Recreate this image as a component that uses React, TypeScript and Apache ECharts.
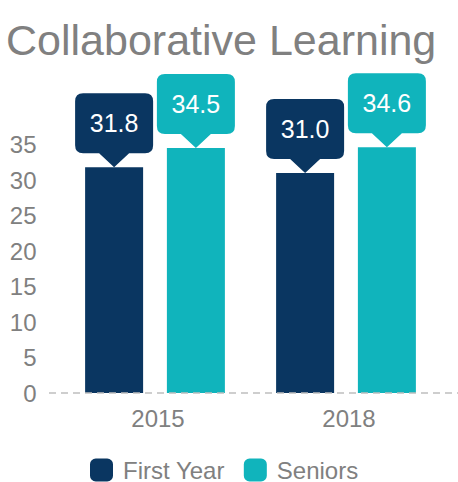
import React, { useEffect, useRef } from "react";
import * as echarts from "echarts";

const categories = ["2015", "2018"];
const seriesNames = ["First Year", "Seniors"];
const firstYear = [31.8, 31.0];
const seniors = [34.5, 34.6];
const yTicks = { min: 0, max: 35, interval: 5 };

const NAVY = "#0a3661";
const TEAL = "#10b4bc";
const GRAY = "#808080";
const FONT = "'Liberation Sans', Arial, sans-serif";

const BUBBLE =
  "path://M8 0 L70 0 Q78 0 78 8 L78 52 Q78 60 70 60 L54 60 L39 74 L24 60 L8 60 Q0 60 0 52 L0 8 Q0 0 8 0 Z";

function makeSeries(name: string, values: number[], color: string) {
  return {
    name,
    type: "bar",
    data: values,
    barWidth: 58,
    barGap: "41%",
    itemStyle: { color },
    markPoint: {
      symbol: BUBBLE,
      symbolSize: [78, 74],
      symbolOffset: [0, "-50%"],
      itemStyle: { color },
      label: {
        show: true,
        position: "inside",
        offset: [0, -7],
        color: "#ffffff",
        fontSize: 25,
        fontFamily: FONT,
        formatter: (p: any) => Number(p.value).toFixed(1),
      },
      data: values.map((v, i) => ({ coord: [categories[i], v], value: v })),
    },
  };
}

export default function App() {
  const ref = useRef<HTMLDivElement>(null);
  useEffect(() => {
    document.body.style.margin = "0";
    const chart = echarts.init(ref.current!, null, { renderer: "svg" });
    chart.setOption({
      animation: false,
      backgroundColor: "#ffffff",
      textStyle: { fontFamily: FONT },
      title: {
        text: "Collaborative Learning",
        left: 6,
        top: 18,
        padding: 0,
        textStyle: { fontSize: 43, fontWeight: "normal", color: GRAY, fontFamily: FONT },
      },
      legend: {
        data: seriesNames,
        left: 90,
        top: 458,
        padding: 0,
        itemWidth: 23,
        itemHeight: 23,
        itemGap: 19,
        icon: "roundRect",
        textStyle: { fontSize: 24, color: GRAY, fontFamily: FONT, padding: [0, 0, 0, 5] },
      },
      grid: { left: 59.5, right: 16.5, top: 144.5, bottom: 89, containLabel: false },
      xAxis: {
        type: "category",
        data: categories,
        axisLine: { show: false },
        axisTick: { show: false },
        axisLabel: { fontSize: 24, color: GRAY, fontFamily: FONT, margin: 13, padding: [0, 0, 0, 6] },
      },
      yAxis: {
        type: "value",
        min: yTicks.min,
        max: yTicks.max,
        interval: yTicks.interval,
        splitLine: { show: false },
        axisLine: { show: false },
        axisTick: { show: false },
        axisLabel: { fontSize: 24, color: GRAY, fontFamily: FONT, margin: 23 },
      },
      graphic: [
        {
          type: "line",
          z: 100,
          shape: { x1: 49, y1: 393, x2: 458, y2: 393 },
          style: { stroke: "#bfbfbf", lineWidth: 1.5, lineDash: [7, 5] },
          silent: true,
        },
      ],
      series: [makeSeries(seriesNames[0], firstYear, NAVY), makeSeries(seriesNames[1], seniors, TEAL)],
    });
    return () => chart.dispose();
  }, []);
  return <div ref={ref} style={{ width: 458, height: 482 }} />;
}
